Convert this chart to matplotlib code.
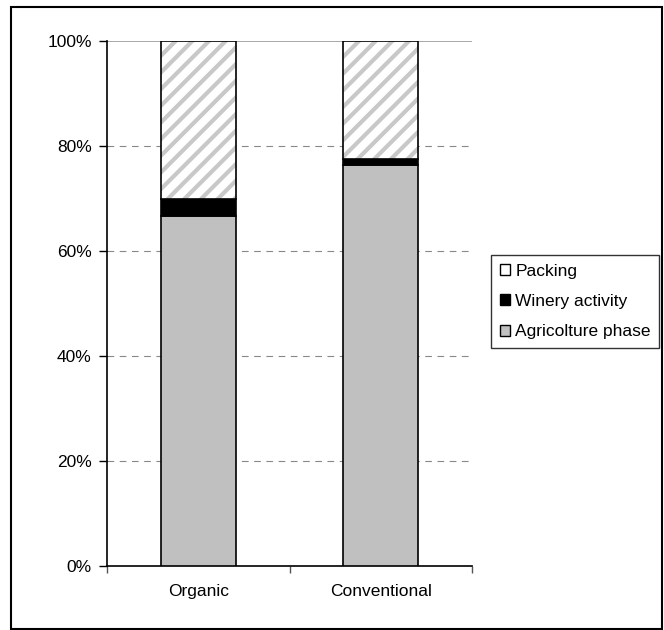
import numpy as np
import matplotlib.pyplot as plt
from matplotlib.patches import Patch, Rectangle

categories = ["Organic", "Conventional"]
agriculture = [66.7, 76.3]
winery = [3.2, 1.2]
packing = [100 - a - w for a, w in zip(agriculture, winery)]

plt.rcParams["font.family"] = ["Liberation Sans", "DejaVu Sans"]
plt.rcParams["font.size"] = 12.5
plt.rcParams["hatch.linewidth"] = 3.0

fig = plt.figure(figsize=(6.64, 6.30), dpi=100)
ax = fig.add_axes([107 / 664, 64 / 630, 365 / 664, 525 / 630])

x = np.arange(len(categories)) + 0.5
w = 0.41
bottom2 = np.array(agriculture) + np.array(winery)

ax.bar(x, agriculture, w, color="#c0c0c0", edgecolor="black", linewidth=1.2, zorder=3)
ax.bar(x, winery, w, bottom=agriculture, color="black", edgecolor="black", linewidth=1.2, zorder=3)
# hatch drawn in light grey, outline on top in black
ax.bar(x, packing, w, bottom=bottom2, color="white", edgecolor="#c8c8c8", linewidth=0,
       hatch="//", zorder=3)
ax.bar(x, packing, w, bottom=bottom2, fill=False, edgecolor="black", linewidth=1.2, zorder=4)

ax.set_xlim(0, 2)
ax.set_ylim(0, 100)
ax.set_yticks([0, 20, 40, 60, 80, 100])
ax.set_yticklabels(["0%", "20%", "40%", "60%", "80%", "100%"])
ax.set_xticks([0, 1, 2], minor=False)
ax.set_xticklabels([])
ax.set_xticks(x, minor=True)
ax.set_xticklabels(categories, minor=True)
ax.tick_params(axis="x", which="minor", length=0, pad=13)
ax.tick_params(axis="x", which="major", length=5, width=1, color="#555555")
ax.tick_params(axis="y", length=6, width=1, pad=5)

for v in [20, 40, 60, 80]:
    ax.axhline(v, color="#888888", linestyle=(0, (6, 5)), linewidth=0.8, zorder=1)
ax.axhline(100, color="#999999", linewidth=1.2, zorder=1)

ax.spines["top"].set_visible(False)
ax.spines["right"].set_visible(False)
ax.spines["left"].set_linewidth(1.2)
ax.spines["bottom"].set_linewidth(1.2)

handles = [
    Patch(facecolor="white", edgecolor="black", label="Packing"),
    Patch(facecolor="black", edgecolor="black", label="Winery activity"),
    Patch(facecolor="#c0c0c0", edgecolor="black", label="Agricolture phase"),
]
leg = fig.legend(handles=handles, loc="upper left", bbox_to_anchor=(491 / 664, 1 - 255 / 630),
                 frameon=True, fancybox=False, edgecolor="black", handlelength=0.6,
                 handleheight=0.6, handletextpad=0.3, borderpad=0.5, labelspacing=0.88,
                 borderaxespad=0, fontsize=12.5)
leg.get_frame().set_linewidth(1.0)

fig.patches.append(Rectangle((11 / 664, 1 / 630), 651 / 664, 622 / 630, transform=fig.transFigure,
                             fill=False, edgecolor="black", linewidth=1.5))

fig.savefig("out.png", dpi=100)
